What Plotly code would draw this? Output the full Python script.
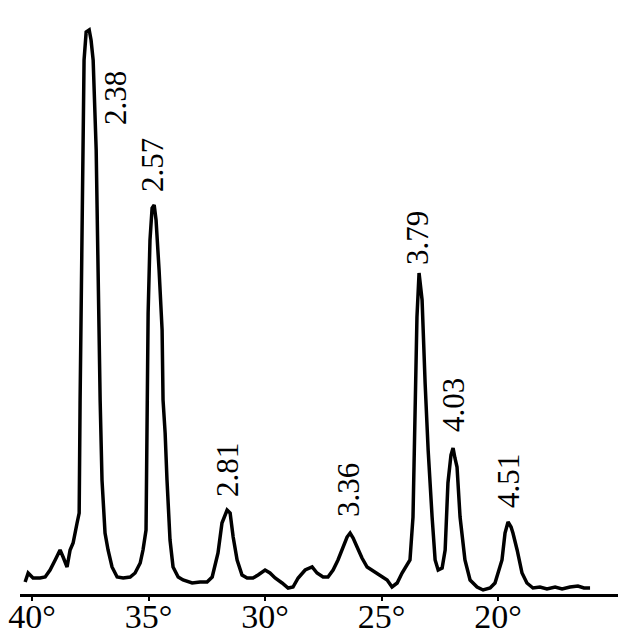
import plotly.graph_objects as go

# XRD pattern (2-theta in degrees, intensity in a.u.)
two_theta = [40.30, 40.17, 39.96, 39.66, 39.44, 39.23, 39.01, 38.80, 38.67, 38.50,
             38.37, 38.24, 38.07, 37.98, 37.94, 37.85, 37.77, 37.68, 37.55, 37.47,
             37.38, 37.25, 37.21, 37.12, 37.08, 37.00, 36.87, 36.74, 36.57, 36.35,
             36.09, 35.79, 35.58, 35.36, 35.24, 35.11, 35.09, 35.06, 35.02, 34.94,
             34.85, 34.76, 34.68, 34.55, 34.42, 34.38, 34.29, 34.21, 34.16, 34.08,
             33.95, 33.73, 33.52, 33.13, 32.79, 32.49, 32.27, 32.15, 32.02, 31.85,
             31.63, 31.50, 31.37, 31.20, 30.99, 30.77, 30.52, 30.30, 30.00, 29.79,
             29.57, 29.27, 29.01, 28.80, 28.58, 28.28, 27.98, 27.77, 27.51, 27.30,
             27.08, 26.87, 26.65, 26.48, 26.35, 26.22, 26.05, 25.84, 25.62, 25.41,
             25.19, 24.98, 24.76, 24.55, 24.33, 24.12, 23.91, 23.78, 23.65, 23.56,
             23.48, 23.39, 23.26, 23.13, 23.00, 22.83, 22.70, 22.57, 22.40, 22.27,
             22.15, 22.02, 21.93, 21.85, 21.76, 21.63, 21.42, 21.20, 20.90, 20.64,
             20.34, 20.13, 19.83, 19.70, 19.57, 19.44, 19.36, 19.18, 18.97, 18.76,
             18.50, 18.20, 17.90, 17.55, 17.25, 16.91, 16.57, 16.31, 16.05]

intensity = [12, 21, 16, 16, 17, 24, 34, 44, 37, 27,
             44, 51, 71, 81, 194, 374, 534, 562, 564, 554,
             534, 444, 374, 274, 194, 114, 61, 44, 27, 17,
             16, 17, 21, 31, 44, 64, 114, 194, 281, 354,
             386, 389, 374, 324, 264, 194, 161, 114, 94, 54,
             27, 17, 14, 11, 12, 12, 17, 27, 41, 71,
             84, 81, 57, 34, 19, 16, 16, 19, 24, 21,
             16, 11, 6, 7, 16, 24, 27, 21, 17, 17,
             24, 34, 47, 57, 61, 56, 47, 36, 27, 24,
             21, 17, 14, 7, 11, 21, 29, 34, 77, 177,
             277, 321, 294, 211, 144, 77, 34, 24, 26, 44,
             111, 139, 146, 136, 127, 77, 34, 14, 7, 4,
             6, 11, 34, 61, 72, 67, 61, 44, 21, 11,
             6, 7, 5, 7, 5, 7, 8, 6, 6]

# d-spacing labels and where they sit
peak_labels = ["2.38", "2.57", "2.81", "3.36", "3.79", "4.03", "4.51"]
label_x = [36.44, 34.85, 31.63, 26.44, 23.48, 21.93, 19.57]
label_y = [496, 429, 124, 104, 356, 189, 113]

tick_vals = [40, 35, 30, 25, 20]
tick_text = ["40°", "35°", "30°", "25°", "20°"]

FONT = "serif"

fig = go.Figure()
fig.add_trace(go.Scatter(x=two_theta, y=intensity, mode="lines",
                         line=dict(color="black", width=3.5),
                         hoverinfo="skip", showlegend=False))

for t, x, y in zip(peak_labels, label_x, label_y):
    fig.add_annotation(x=x, y=y, text=t, textangle=-90, showarrow=False,
                       xanchor="center", yanchor="middle",
                       font=dict(family=FONT, size=31, color="black"))

fig.update_xaxes(range=[40.52, 14.85], tickvals=tick_vals, ticktext=tick_text,
                 automargin=False, ticklabelstandoff=-14,
                 showgrid=False, zeroline=False, showline=True,
                 linecolor="black", linewidth=3, ticks="outside",
                 ticklen=4, tickwidth=2, tickcolor="black",
                 tickfont=dict(family=FONT, size=34, color="black"))
fig.update_yaxes(range=[0, 574], visible=False, showgrid=False, zeroline=False,
                 automargin=False)

# the page adds an 8 px body margin, so the figure is sized to fit the window
fig.update_layout(width=632, height=634, margin=dict(l=12, r=22, t=12, b=48),
                  plot_bgcolor="white", paper_bgcolor="white",
                  font=dict(family=FONT))

fig.write_html("out.html")
